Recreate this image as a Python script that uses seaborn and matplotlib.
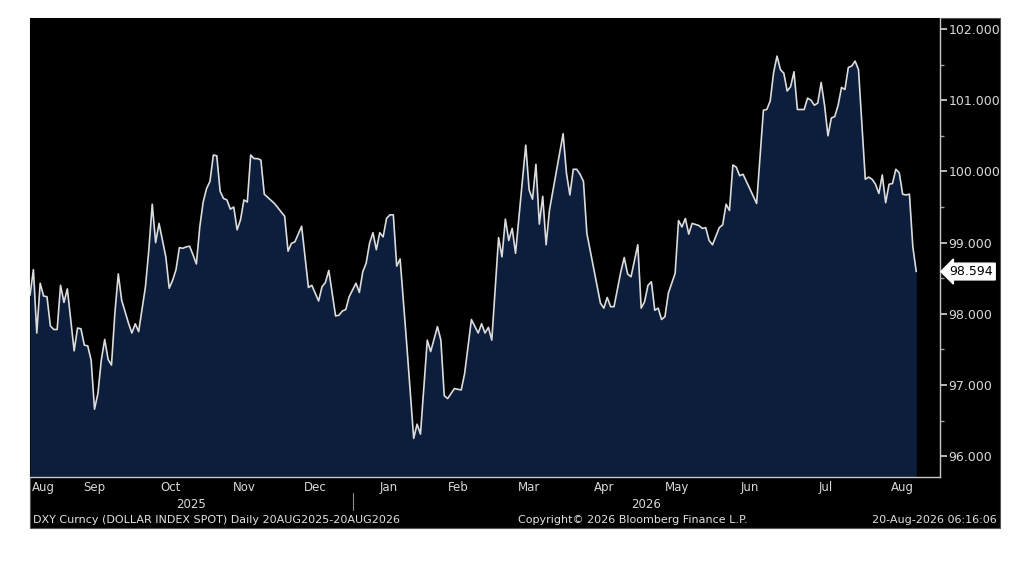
import seaborn as sns
import matplotlib.pyplot as plt
import matplotlib.transforms as mtransforms
from matplotlib.patches import Rectangle
import numpy as np
import pandas as pd

# DXY daily close (trading day number since 20 Aug 2025)
session = [0, 1, 2, 3, 4, 5, 6, 7, 8, 9, 10, 11, 13, 14, 15, 16, 17, 18, 19, 20,
           21, 22, 23, 24, 25, 26, 27, 29, 30, 31, 32, 34, 35, 36, 37, 38, 40, 41, 42, 43,
           44, 45, 46, 47, 48, 49, 50, 51, 52, 53, 54, 55, 56, 57, 58, 59, 60, 61, 62, 63,
           64, 65, 66, 67, 68, 69, 72, 75, 76, 77, 78, 80, 82, 83, 85, 86, 87, 88, 90, 91,
           92, 93, 94, 96, 97, 98, 99, 100, 101, 102, 103, 104, 105, 106, 107, 108, 109, 111, 113, 114,
           115, 117, 118, 120, 121, 122, 123, 125, 127, 128, 130, 132, 133, 134, 135, 136, 138, 139, 140, 141,
           142, 143, 146, 147, 148, 149, 150, 151, 152, 153, 157, 158, 159, 160, 161, 162, 163, 164, 168, 169,
           170, 171, 172, 174, 175, 176, 177, 179, 180, 181, 182, 183, 184, 185, 186, 187, 188, 190, 191, 192,
           193, 194, 195, 197, 198, 199, 200, 201, 203, 204, 205, 206, 207, 208, 209, 210, 214, 216, 217, 218,
           219, 220, 221, 222, 223, 224, 225, 226, 228, 229, 230, 231, 232, 233, 234, 235, 236, 237, 238, 239,
           240, 241, 242, 243, 244, 246, 247, 248, 249, 250, 251, 252, 253, 254, 255, 256, 257, 258, 259, 260,
           261]
dxy = [98.26, 98.62, 97.73, 98.43, 98.25, 98.24, 97.83, 97.78, 97.78, 98.40, 98.16, 98.35, 97.48, 97.80, 97.79, 97.56, 97.55, 97.35, 96.66, 96.88,
       97.35, 97.64, 97.36, 97.28, 98.01, 98.56, 98.19, 97.87, 97.73, 97.86, 97.75, 98.38, 98.90, 99.54, 99.00, 99.27, 98.80, 98.36, 98.47, 98.62,
       98.93, 98.92, 98.94, 98.95, 98.83, 98.70, 99.22, 99.57, 99.76, 99.86, 100.23, 100.22, 99.72, 99.62, 99.60, 99.47, 99.50, 99.18, 99.32, 99.60,
       99.57, 100.23, 100.18, 100.18, 100.16, 99.68, 99.55, 99.37, 98.88, 98.99, 99.01, 99.23, 98.37, 98.40, 98.18, 98.38, 98.44, 98.61, 97.97, 97.98,
       98.04, 98.06, 98.24, 98.43, 98.30, 98.59, 98.71, 98.99, 99.14, 98.90, 99.14, 99.08, 99.34, 99.39, 99.39, 98.67, 98.77, 97.54, 96.25, 96.45,
       96.31, 97.63, 97.47, 97.82, 97.63, 96.85, 96.81, 96.95, 96.93, 97.16, 97.92, 97.73, 97.86, 97.73, 97.81, 97.63, 99.07, 98.80, 99.33, 99.03,
       99.20, 98.85, 100.37, 99.74, 99.61, 100.10, 99.26, 99.65, 98.97, 99.46, 100.53, 99.97, 99.67, 100.03, 100.03, 99.96, 99.86, 99.13, 98.15, 98.08,
       98.23, 98.10, 98.10, 98.59, 98.79, 98.56, 98.52, 98.97, 98.08, 98.17, 98.40, 98.45, 98.05, 98.08, 97.92, 97.96, 98.29, 98.57, 99.31, 99.22,
       99.34, 99.12, 99.27, 99.24, 99.20, 99.21, 99.03, 98.97, 99.21, 99.25, 99.54, 99.45, 100.09, 100.06, 99.94, 99.96, 99.55, 100.86, 100.87, 100.99,
       101.39, 101.62, 101.43, 101.38, 101.13, 101.19, 101.40, 100.87, 100.87, 101.03, 101.00, 100.93, 100.96, 101.25, 100.93, 100.50, 100.75, 100.77, 100.93, 101.18,
       101.15, 101.46, 101.48, 101.55, 101.43, 99.89, 99.92, 99.89, 99.82, 99.69, 99.95, 99.56, 99.82, 99.83, 100.03, 99.98, 99.68, 99.67, 99.68, 98.94,
       98.594]

start_date = '2025-08-20'
holidays = ['2025-12-25', '2026-01-01']
month_starts = ['2025-09-01', '2025-10-01', '2025-11-01', '2025-12-01', '2026-01-01', '2026-02-01',
                '2026-03-01', '2026-04-01', '2026-05-01', '2026-06-01', '2026-07-01', '2026-08-01']
month_labels = ['Aug', 'Sep', 'Oct', 'Nov', 'Dec', 'Jan', 'Feb', 'Mar', 'Apr', 'May', 'Jun', 'Jul', 'Aug']
years = ['2025', '2026']
y_ticks = [96, 97, 98, 99, 100, 101, 102]
last_value = 98.594

df = pd.DataFrame({'session': session, 'dxy': dxy})

sns.set_style('dark')
plt.rcParams['font.family'] = ['DejaVu Sans']

fig = plt.figure(figsize=(10.24, 5.66), dpi=100)
fig.patch.set_facecolor('white')
W, H = 1024, 566
fig.patches.append(Rectangle((30 / W, (H - 528) / H), 970 / W, 510 / H,
                             transform=fig.transFigure, facecolor='black', edgecolor='#555555',
                             lw=0.8, zorder=-5))
ax = fig.add_axes([30 / W, (H - 477) / H, 910 / W, 459 / H])
ax.set_zorder(2)
ax.set_facecolor('black')

ymin, ymax = 95.708, 102.155
xmax = 268

ax.fill_between(df['session'], df['dxy'], ymin, color='#0c1e3b', lw=0, zorder=1)
sns.lineplot(data=df, x='session', y='dxy', ax=ax, color='#dcdcdc', lw=1.2, zorder=2)

ax.set_xlim(0, xmax)
ax.set_ylim(ymin, ymax)
ax.set_xlabel('')
ax.set_ylabel('')

# month boundaries on the trading-day scale
bounds = [int(np.busday_count(start_date, m, holidays=holidays)) for m in month_starts]
edges = [0] + bounds + [xmax]
mids = [(a + b) / 2 for a, b in zip(edges[:-1], edges[1:])]
ax.set_xticks(bounds)
ax.set_xticklabels([])
ax.set_xticks(mids, minor=True)
ax.set_xticklabels(month_labels, minor=True)
ax.tick_params(axis='x', which='major', length=4, width=1, color='#c8c8c8', direction='out')
ax.tick_params(axis='x', which='minor', length=0, pad=3, labelsize=8.5, labelcolor='#d8d8d8')

ax.yaxis.tick_right()
ax.set_yticks(y_ticks)
ax.set_yticklabels([f'{v:.3f}' for v in y_ticks])
ax.set_yticks([v + 0.5 for v in y_ticks[:-1]], minor=True)
ax.tick_params(axis='y', which='major', length=5, width=1.2, color='#d8d8d8', pad=1,
               labelsize=9, labelcolor='#d8d8d8', direction='out')
ax.tick_params(axis='y', which='minor', length=3, width=1, color='#a0a0a0', direction='out')
ax.grid(False)

for side in ['top', 'left']:
    ax.spines[side].set_visible(False)
for side in ['bottom', 'right']:
    ax.spines[side].set_visible(True)
    ax.spines[side].set_color('#c8c8c8')
    ax.spines[side].set_linewidth(1)

# year row and separator
trans = mtransforms.blended_transform_factory(ax.transData, ax.transAxes)
jan = bounds[4]
ax.text(jan / 2, -0.059, years[0], transform=trans, ha='center', va='center',
        fontsize=8.5, color='#d8d8d8')
ax.text((jan + xmax) / 2, -0.059, years[1], transform=trans, ha='center', va='center',
        fontsize=8.5, color='#d8d8d8')
ax.plot([jan, jan], [-0.035, -0.072], transform=trans, color='#909090', lw=0.8, clip_on=False)

# last price tag
ax.annotate(f'{last_value:.3f}', xy=(1.0, last_value), xycoords=('axes fraction', 'data'),
            xytext=(7, 0), textcoords='offset points', ha='left', va='center',
            fontsize=9, color='black',
            bbox=dict(boxstyle='larrow,pad=0.15', fc='white', ec='white'))

# footer
fy = (H - 520) / H
fig.text(33 / W, fy, 'DXY Curncy (DOLLAR INDEX SPOT) Daily 20AUG2025-20AUG2026',
         ha='left', va='center', fontsize=8, color='#e0e0e0')
fig.text(633 / W, fy, 'Copyright\u00a9 2026 Bloomberg Finance L.P.',
         ha='center', va='center', fontsize=8, color='#e0e0e0')
fig.text(997 / W, fy, '20-Aug-2026 06:16:06',
         ha='right', va='center', fontsize=8, color='#e0e0e0')

fig.savefig('out.png', dpi=100, facecolor='white')
